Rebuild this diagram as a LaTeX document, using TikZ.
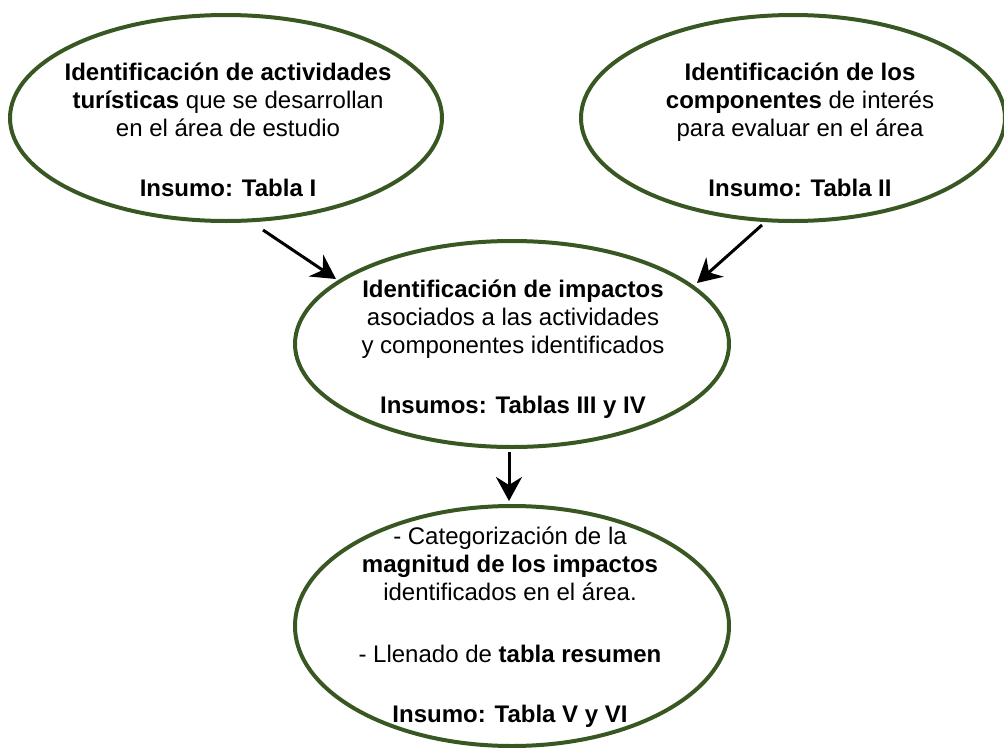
\documentclass[tikz,border=0pt]{standalone}
\usepackage{fontspec}
\setmainfont{Liberation Sans}
\usetikzlibrary{arrows.meta,shapes.geometric}
\definecolor{egreen}{RGB}{56,87,35}
\begin{document}
\begin{tikzpicture}[x=1pt,y=-1pt,
  oval/.style={draw=egreen, line width=4pt, ellipse, inner sep=0pt},
  txt/.style={align=center, inner sep=0pt, font=\fontsize{24}{28}\selectfont, anchor=base},
  arr/.style={line width=3pt, -{Stealth[length=24pt,width=26pt,inset=8pt]}}]
\useasboundingbox (0,0) rectangle (1004,747);
\node[oval, minimum width=432pt, minimum height=206pt] (e1) at (226,118) {};
\node[oval, minimum width=424pt, minimum height=206pt] (e2) at (793,118) {};
\node[oval, minimum width=434pt, minimum height=206pt] (e3) at (512,344) {};
\node[oval, minimum width=434pt, minimum height=240pt] (e4) at (512,626) {};

\node[txt] (t1) at (228,196) {\textbf{Identificación de actividades}\\ \textbf{turísticas} que se desarrollan\\ en el área de estudio\\[32pt] \textbf{Insumo: Tabla I}};
\node[txt] (t2) at (800,196) {\textbf{Identificación de los}\\ \textbf{componentes} de interés\\ para evaluar en el área\\[32pt] \textbf{Insumo: Tabla II}};
\node[txt] (t3) at (513,413) {\textbf{Identificación de impactos}\\ asociados a las actividades\\ y componentes identificados\\[32pt] \textbf{Insumos: Tablas III y IV}};
\node[txt] (t4) at (510,722) {- Categorización de la\\ \textbf{magnitud de los impactos}\\ identificados en el área.\\[34pt] - Llenado de \textbf{tabla resumen}\\[32pt] \textbf{Insumo: Tabla V y VI}};

\coordinate (a1s) at (263,230);
\coordinate (a1e) at (336,279);
\coordinate (a2s) at (762,225);
\coordinate (a2e) at (697,283);
\coordinate (a3s) at (509,452);
\coordinate (a3e) at (509,501);
\draw[arr] (a1s) -- (a1e);
\draw[arr] (a2s) -- (a2e);
\draw[arr] (a3s) -- (a3e);
\end{tikzpicture}
\end{document}
